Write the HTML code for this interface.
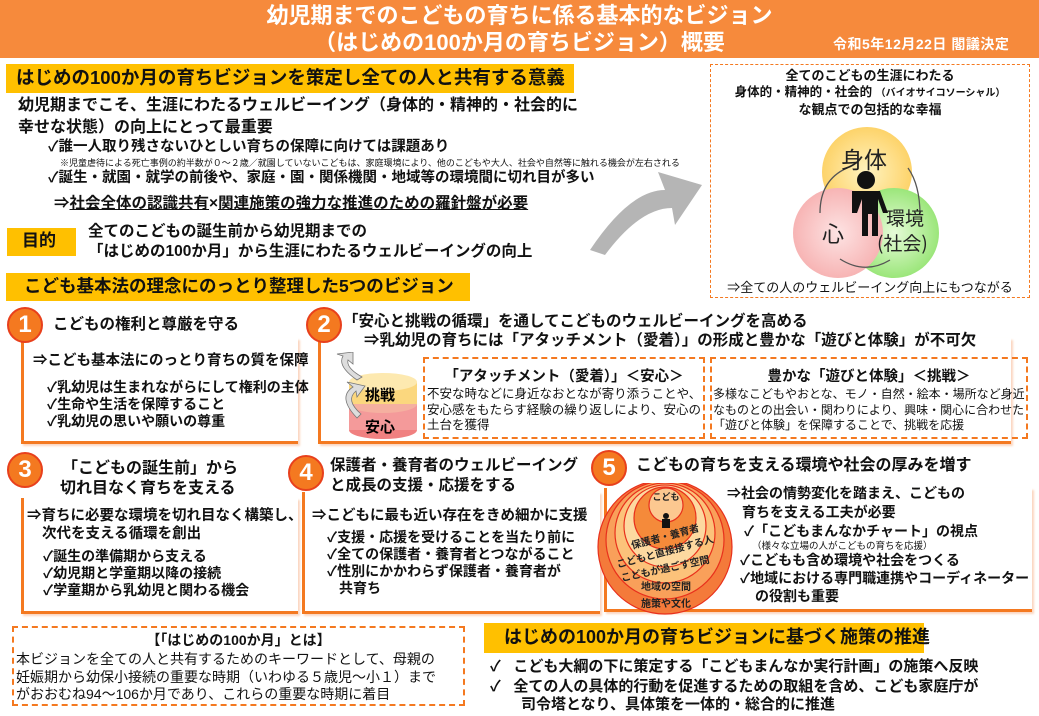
<!DOCTYPE html>
<html><head><meta charset="utf-8"><style>
*{margin:0;padding:0;box-sizing:border-box}
body{width:1039px;height:716px;position:relative;overflow:hidden;background:#fff;font-family:"Liberation Sans","Noto Sans CJK JP",sans-serif;color:#111;font-weight:bold}
.t{position:absolute;white-space:nowrap;line-height:1.2}
.yb{position:absolute;background:#FFC000;}
.num{position:absolute;width:36px;height:36px;border-radius:50%;background:#F47920;border:2px solid #E8401C;color:#fff;font-size:24px;text-align:center;line-height:31px;font-family:"Liberation Sans",sans-serif}
.lv{position:absolute;border-left:3px solid #F47920;border-bottom:3px solid #F47920;box-shadow:2px 2px 2px #fbd6bf}
.dash{position:absolute;border:2px dashed #F47920}
.n{font-weight:normal}
</style></head><body>
<div style="position:absolute;left:0;top:0;width:1039px;height:58px;background:#F68A3C"></div>
<div class="t" style="left:0;width:1039px;text-align:center;top:3px;font-size:22px;color:#fff">幼児期までのこどもの育ちに係る基本的なビジョン</div>
<div class="t" style="left:0;width:1039px;text-align:center;top:30px;font-size:22px;color:#fff">（はじめの100か月の育ちビジョン）概要</div>
<div class="t" style="left:833px;top:36px;font-size:14px;color:#fff;letter-spacing:0.5px">令和5年12月22日 閣議決定</div>

<div class="yb" style="left:6px;top:64px;width:568px;height:29px"></div>
<div class="t" style="left:16px;top:67px;font-size:18.5px">はじめの100か月の育ちビジョンを策定し全ての人と共有する意義</div>
<div class="t" style="left:18px;top:96px;font-size:16px">幼児期までこそ、生涯にわたるウェルビーイング（身体的・精神的・社会的に</div>
<div class="t" style="left:18px;top:118px;font-size:16px">幸せな状態）の向上にとって最重要</div>
<div class="t" style="left:48px;top:139px;font-size:14.5px">✓誰一人取り残さないひとしい育ちの保障に向けては課題あり</div>
<div class="t n" style="left:60px;top:158px;font-size:9px">※児童虐待による死亡事例の約半数が０～２歳／就園していないこどもは、家庭環境により、他のこどもや大人、社会や自然等に触れる機会が左右される</div>
<div class="t" style="left:48px;top:170px;font-size:14.5px">✓誕生・就園・就学の前後や、家庭・園・関係機関・地域等の環境間に切れ目が多い</div>
<div class="t" style="left:54px;top:195px;font-size:15.5px">⇒<u>社会全体の認識共有</u>×<u>関連施策の強力な推進のための羅針盤が必要</u></div>
<div class="yb" style="left:7px;top:228px;width:69px;height:28px"></div>
<div class="t" style="left:22px;top:231px;font-size:17px">目的</div>
<div class="t" style="left:88px;top:223px;font-size:15.5px">全てのこどもの誕生前から幼児期までの</div>
<div class="t" style="left:88px;top:243px;font-size:15.5px">「はじめの100か月」から生涯にわたるウェルビーイングの向上</div>

<svg style="position:absolute;left:580px;top:150px" width="130" height="110"><path d="M10 100 Q50 40 85 40 L78 22 L122 35 L95 75 L92 58 Q60 58 25 105 Z" fill="#b5b5b5"/></svg>

<div class="dash" style="left:710px;top:64px;width:320px;height:234px;border-width:1.5px"></div>
<div class="t" style="left:710px;width:320px;text-align:center;top:68px;font-size:13px">全てのこどもの生涯にわたる</div>
<div class="t" style="left:710px;width:320px;text-align:center;top:85px;font-size:12.5px">身体的・精神的・社会的 <span style="font-size:10px">（バイオサイコソーシャル）</span></div>
<div class="t" style="left:710px;width:320px;text-align:center;top:102px;font-size:13px">な観点での包括的な幸福</div>
<svg style="position:absolute;left:780px;top:120px;font-weight:normal" width="180" height="160">
<defs>
<radialGradient id="gy"><stop offset="0" stop-color="#fff3c0"/><stop offset="1" stop-color="#fdd36a"/></radialGradient>
<radialGradient id="gp"><stop offset="0" stop-color="#fde3e3"/><stop offset="1" stop-color="#f7b4b4"/></radialGradient>
<radialGradient id="gg"><stop offset="0" stop-color="#e6fbd8"/><stop offset="1" stop-color="#9be67a"/></radialGradient>
</defs>
<circle cx="87" cy="52" r="45" fill="url(#gy)"/>
<circle cx="114" cy="113" r="45" fill="url(#gg)"/>
<circle cx="58" cy="113" r="45" fill="url(#gp)"/>
<circle cx="86" cy="60" r="9" fill="#111"/>
<path d="M72 71 h28 l8 22 h-5 l-5-14 v37 h-6 v-22 h-4 v22 h-6 v-37 l-5 14 h-5 z" fill="#111"/>
<path d="M40 93 Q40 60 67 48" stroke="#555" fill="none" stroke-width="1.3"/>
<path d="M128 48 Q140 65 140 95" stroke="#555" fill="none" stroke-width="1.3"/>
<path d="M60 139 Q85 155 110 140" stroke="#555" fill="none" stroke-width="1.3"/>
<text x="61" y="48" font-size="23" font-weight="normal" font-family="Noto Sans CJK JP" fill="#222">身体</text>
<text x="42" y="122" font-size="22" font-weight="normal" font-family="Noto Sans CJK JP" fill="#222">心</text>
<text x="106" y="105" font-size="19" font-weight="normal" font-family="Noto Sans CJK JP" fill="#222">環境</text>
<text x="97" y="130" font-size="19" font-weight="normal" font-family="Noto Sans CJK JP" fill="#222">(社会)</text>
</svg>
<div class="t n" style="left:710px;width:320px;text-align:center;top:280px;font-size:13px">⇒全ての人のウェルビーイング向上にもつながる</div>

<div class="yb" style="left:6px;top:273px;width:464px;height:28px"></div>
<div class="t" style="left:24px;top:276px;font-size:17.5px">こども基本法の理念にのっとり整理した5つのビジョン</div>

<div class="lv" style="left:21px;top:338px;width:277px;height:106px"></div>
<div class="num" style="left:7px;top:307px">1</div>
<div class="t" style="left:53px;top:316px;font-size:15.5px">こどもの権利と尊厳を守る</div>
<div class="t" style="left:33px;top:353px;font-size:14.5px">⇒こども基本法にのっとり育ちの質を保障</div>
<div class="t" style="left:47px;top:379px;font-size:14px">✓乳幼児は生まれながらにして権利の主体</div>
<div class="t" style="left:47px;top:396px;font-size:14px">✓生命や生活を保障すること</div>
<div class="t" style="left:47px;top:413px;font-size:14px">✓乳幼児の思いや願いの尊重</div>

<div class="lv" style="left:318px;top:338px;width:693px;height:106px"></div>
<div class="num" style="left:306px;top:307px">2</div>
<div class="t" style="left:343px;top:313px;font-size:15.5px">「安心と挑戦の循環」を通してこどものウェルビーイングを高める</div>
<div class="t" style="left:364px;top:332px;font-size:15.5px">⇒乳幼児の育ちには「アタッチメント（愛着）」の形成と豊かな「遊びと体験」が不可欠</div>
<svg style="position:absolute;left:335px;top:352px" width="85" height="92">
<ellipse cx="48" cy="78" rx="34" ry="9" fill="#f08080"/>
<rect x="14" y="52" width="68" height="26" fill="#f49a9a"/>
<ellipse cx="48" cy="52" rx="34" ry="9" fill="#f5b0a0"/>
<rect x="14" y="30" width="68" height="22" fill="#fbd77e"/>
<ellipse cx="48" cy="30" rx="34" ry="9" fill="#fde9b0"/>
<path d="M22 66 Q2 45 18 35 L12 30 L30 34 L22 45 L21 39 Q10 48 26 62 Z" fill="#ddd" stroke="#777" stroke-width=".8"/>
<path d="M22 28 Q2 14 8 4 L2 2 L18 0 L18 12 L13 8 Q11 16 27 25 Z" fill="#ddd" stroke="#777" stroke-width=".8"/>
<text x="30" y="48" font-size="15" font-weight="bold" font-family="Noto Sans CJK JP">挑戦</text>
<text x="30" y="80" font-size="15" font-weight="bold" font-family="Noto Sans CJK JP">安心</text>
</svg>
<div class="dash" style="left:423px;top:357px;width:282px;height:82px"></div>
<div class="t" style="left:423px;width:282px;text-align:center;top:369px;font-size:14.5px">「アタッチメント（愛着）」＜安心＞</div>
<div class="t n" style="left:427px;top:387px;font-size:12.5px;line-height:15.5px">不安な時などに身近なおとなが寄り添うことや、<br>安心感をもたらす経験の繰り返しにより、安心の<br>土台を獲得</div>
<div class="dash" style="left:710px;top:357px;width:318px;height:82px"></div>
<div class="t" style="left:710px;width:318px;text-align:center;top:369px;font-size:14.5px">豊かな「遊びと体験」＜挑戦＞</div>
<div class="t n" style="left:713px;top:387px;font-size:12px;line-height:15.5px">多様なこどもやおとな、モノ・自然・絵本・場所など身近<br>なものとの出会い・関わりにより、興味・関心に合わせた<br>「遊びと体験」を保障することで、挑戦を応援</div>

<div class="lv" style="left:21px;top:498px;width:277px;height:116px"></div>
<div class="num" style="left:7px;top:452px">3</div>
<div class="t" style="left:62px;top:459px;font-size:16px">「こどもの誕生前」から</div>
<div class="t" style="left:60px;top:479px;font-size:16px">切れ目なく育ちを支える</div>
<div class="t" style="left:27px;top:508px;font-size:14.5px">⇒育ちに必要な環境を切れ目なく構築し、</div>
<div class="t" style="left:42px;top:526px;font-size:14.5px">次代を支える循環を創出</div>
<div class="t" style="left:43px;top:548px;font-size:14px">✓誕生の準備期から支える</div>
<div class="t" style="left:43px;top:565px;font-size:14px">✓幼児期と学童期以降の接続</div>
<div class="t" style="left:43px;top:582px;font-size:14px">✓学童期から乳幼児と関わる機会</div>

<div class="lv" style="left:302px;top:492px;width:298px;height:122px"></div>
<div class="num" style="left:288px;top:455px">4</div>
<div class="t" style="left:330px;top:457px;font-size:15.5px">保護者・養育者のウェルビーイング</div>
<div class="t" style="left:330px;top:477px;font-size:15.5px">と成長の支援・応援をする</div>
<div class="t" style="left:312px;top:508px;font-size:14.5px">⇒こどもに最も近い存在をきめ細かに支援</div>
<div class="t" style="left:327px;top:529px;font-size:14px">✓支援・応援を受けることを当たり前に</div>
<div class="t" style="left:327px;top:546px;font-size:14px">✓全ての保護者・養育者とつながること</div>
<div class="t" style="left:327px;top:563px;font-size:14px">✓性別にかかわらず保護者・養育者が</div>
<div class="t" style="left:339px;top:580px;font-size:14px">共育ち</div>

<div class="lv" style="left:604px;top:488px;width:428px;height:124px"></div>
<div class="num" style="left:591px;top:450px">5</div>
<div class="t" style="left:636px;top:456px;font-size:16px">こどもの育ちを支える環境や社会の厚みを増す</div>
<svg style="position:absolute;left:595px;top:483px" width="145" height="132">
<g stroke="#e8301c" stroke-width="1.2">
<circle cx="70" cy="64" r="67" fill="#f47a3a"/>
<circle cx="70" cy="57" r="59" fill="#f9a05a"/>
<circle cx="70" cy="50" r="50" fill="#fcc27a"/>
<circle cx="70" cy="43" r="41" fill="#fdd9a0"/>
<circle cx="70" cy="35" r="31" fill="#f58a3a"/>
<circle cx="71" cy="22" r="17" fill="#fcc890"/>
</g>
<circle cx="71" cy="33" r="3" fill="#111"/><rect x="67" y="36" width="8" height="9" fill="#111"/>
<g font-family="Noto Sans CJK JP" font-weight="bold" font-size="10" text-anchor="middle" fill="#222">
<text x="71" y="17" font-size="9">こども</text>
<text x="71" y="57" transform="rotate(-15 71 57)">保護者・養育者</text>
<text x="71" y="72" transform="rotate(-15 71 72)">こどもと直接接する人</text>
<text x="71" y="89" transform="rotate(-12 71 89)">こどもが過ごす空間</text>
<text x="71" y="107">地域の空間</text>
<text x="71" y="124">施策や文化</text>
</g>
</svg>
<div class="t" style="left:727px;top:485px;font-size:14px">⇒社会の情勢変化を踏まえ、こどもの</div>
<div class="t" style="left:742px;top:504px;font-size:14px">育ちを支える工夫が必要</div>
<div class="t" style="left:744px;top:523px;font-size:14px">✓「こどもまんなかチャート」の視点</div>
<div class="t n" style="left:752px;top:541px;font-size:9.5px">（様々な立場の人がこどもの育ちを応援）</div>
<div class="t" style="left:740px;top:552px;font-size:14px">✓こどもも含め環境や社会をつくる</div>
<div class="t" style="left:740px;top:570px;font-size:14px">✓地域における専門職連携やコーディネーター</div>
<div class="t" style="left:755px;top:588px;font-size:14px">の役割も重要</div>

<div class="dash" style="left:12px;top:626px;width:453px;height:80px;border-width:2.5px"></div>
<div class="t" style="left:12px;width:453px;text-align:center;top:632px;font-size:14px">【「はじめの100か月」とは】</div>
<div class="t n" style="left:16px;top:651px;font-size:14px;line-height:17.5px">本ビジョンを全ての人と共有するためのキーワードとして、母親の<br>妊娠期から幼保小接続の重要な時期（いわゆる５歳児～小１）まで<br>がおおむね94～106か月であり、これらの重要な時期に着目</div>
<div class="yb" style="left:484px;top:623px;width:440px;height:30px"></div>
<div class="t" style="left:504px;top:627px;font-size:18px">はじめの100か月の育ちビジョンに基づく施策の推進</div>
<div class="t" style="left:490px;top:658px;font-size:15px">✓&nbsp;&nbsp; こども大綱の下に策定する「こどもまんなか実行計画」の施策へ反映</div>
<div class="t" style="left:490px;top:678px;font-size:15px">✓&nbsp;&nbsp; 全ての人の具体的行動を促進するための取組を含め、こども家庭庁が</div>
<div class="t" style="left:521px;top:696px;font-size:15px">司令塔となり、具体策を一体的・総合的に推進</div>
</body></html>
